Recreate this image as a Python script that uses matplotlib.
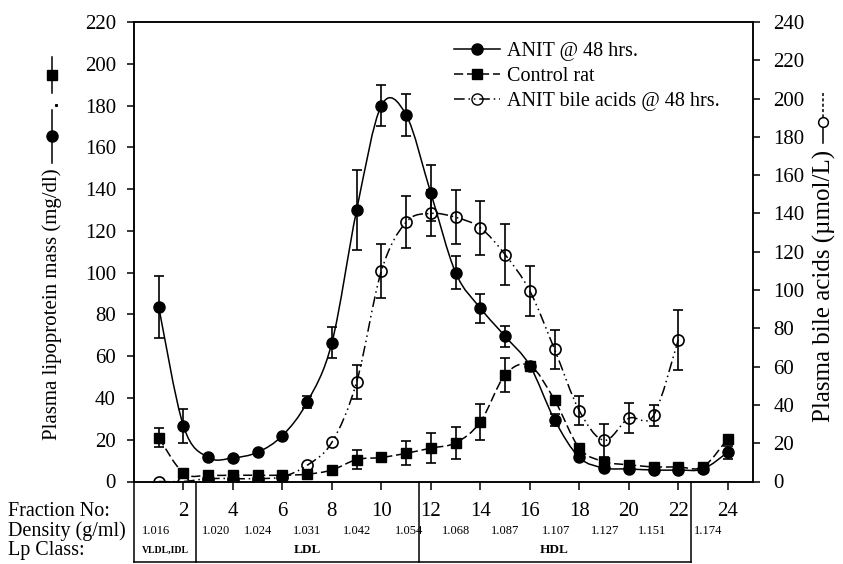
import matplotlib
matplotlib.use('Agg')
import matplotlib.pyplot as plt
from matplotlib.path import Path
from matplotlib.patches import PathPatch
from matplotlib.lines import Line2D
import matplotlib.transforms as mtransforms

plt.rcParams['font.family'] = ['Liberation Serif', 'DejaVu Serif']

# ---------------- data ----------------
fractions = list(range(1, 25))
anit = [83.5, 26.5, 11.5, 11.3, 14, 22, 38, 66.5, 130, 180, 175.5, 138,
        100, 83, 69.5, 55.5, 29.5, 11.5, 6.5, 6, 5.5, 5.5, 6, 14]
anit_err = [15, 8, 0, 0, 0, 0, 3, 7.5, 19, 10, 10, 13.5,
            8, 7, 5, 0, 3, 0, 0, 0, 0, 0, 0, 3]
control = [21, 4, 3, 3, 3, 3, 3.5, 5.5, 10.5, 11.5, 13.5, 16,
           18.5, 28.5, 51, 55.5, 39, 16, 9.5, 8, 7, 7, 7, 20.5]
control_err = [4.5, 0, 0, 0, 0, 0, 0, 0, 4.5, 2, 5.8, 7.3,
               7.8, 8.5, 8, 0, 0, 0, 0, 0, 0, 0, 0, 0]
bile_fractions = list(range(1, 23))
bile = [0, 0, 1.5, 1.5, 1.5, 2.5, 8.5, 20.5, 52, 110, 135.5, 140,
        138, 132.5, 118.5, 99.5, 69, 37, 21.5, 33, 34.5, 74]
bile_err = [0, 0, 0, 0, 0, 0, 0, 0, 9, 14, 13.7, 12,
            14, 14, 16, 13, 10, 7.5, 8.6, 7.8, 5.6, 15.7]
tick_fractions = list(range(2, 25, 2))
density_labels = ['1.016', '1.020', '1.024', '1.031', '1.042', '1.054',
                  '1.068', '1.087', '1.107', '1.127', '1.151', '1.174']
lp_classes = ['VLDL,IDL', 'LDL', 'HDL']
series_labels = ['ANIT @ 48 hrs.', 'Control rat', 'ANIT bile acids @ 48 hrs.']

# ---------------- layout ----------------
W, H = 843, 564
fig = plt.figure(figsize=(W / 100, H / 100), dpi=100)


def fx(px):
    return px / W


def fy(py):
    return 1 - py / H


ax = fig.add_axes([fx(134), fy(481.5), fx(752.5) - fx(134), fy(22) - fy(481.5)])
ax2 = ax.twinx()
ax.set_xlim(0, 25)
ax.set_ylim(0, 220)
ax2.set_ylim(0, 240)

LW = 1.1


def smooth_curve(axis, x, y, ls, lw=LW, z=2):
    n = len(x)
    verts = [(x[0], y[0])]
    codes = [Path.MOVETO]
    for i in range(n - 1):
        p0 = i - 1 if i > 0 else i
        p3 = i + 2 if i + 2 < n else i + 1
        c1 = (x[i] + (x[i + 1] - x[p0]) / 6.0, y[i] + (y[i + 1] - y[p0]) / 6.0)
        c2 = (x[i + 1] - (x[p3] - x[i]) / 6.0, y[i + 1] - (y[p3] - y[i]) / 6.0)
        verts += [c1, c2, (x[i + 1], y[i + 1])]
        codes += [Path.CURVE4] * 3
    patch = PathPatch(Path(verts, codes), facecolor='none', edgecolor='black',
                      linewidth=lw, linestyle=ls, zorder=z, capstyle='butt')
    axis.add_patch(patch)


def err_subset(xs, ys, es):
    sx, sy, se = [], [], []
    for a, b, c in zip(xs, ys, es):
        if c > 0:
            sx.append(a); sy.append(b); se.append(c)
    return sx, sy, se


ekw = dict(fmt='none', ecolor='black', elinewidth=1.2, capsize=3.5, capthick=1.2)

# Control rat (dashed, squares)
control_ls = (0, (6, 2.5))
smooth_curve(ax, fractions, control, control_ls, z=2)
sx, sy, se = err_subset(fractions, control, control_err)
ax.errorbar(sx, sy, yerr=se, zorder=3, **ekw)
ax.plot(fractions, control, ls='none', marker='s', ms=7, color='black', zorder=4)

# ANIT (solid, filled circles)
smooth_curve(ax, fractions, anit, '-', z=5)
sx, sy, se = err_subset(fractions, anit, anit_err)
ax.errorbar(sx, sy, yerr=se, zorder=5, **ekw)
ax.plot(fractions, anit, ls='none', marker='o', ms=8, color='black', zorder=6)

# Bile acids (dash-dot-dot, open circles) on right axis
bile_ls = (0, (7, 2.5, 1, 2.5, 1, 2.5))
smooth_curve(ax2, bile_fractions, bile, bile_ls, z=2)
sx, sy, se = err_subset(bile_fractions, bile, bile_err)
ax2.errorbar(sx, sy, yerr=se, zorder=3, **ekw)
ax2.plot(bile_fractions, bile, ls='none', marker='o', ms=8, mfc='none',
         mec='black', mew=1.2, zorder=4)

# ---------------- axes styling ----------------
for a in (ax, ax2):
    for s in a.spines.values():
        s.set_linewidth(LW)
ax.set_yticks(range(0, 221, 20))
ax2.set_yticks(range(0, 241, 20))
ax.tick_params(axis='y', direction='out', length=5, width=LW, labelsize=15, pad=8)
ax2.tick_params(axis='y', direction='out', length=5, width=LW, labelsize=15, pad=10)
ax.set_xticks(tick_fractions)
ax.tick_params(axis='x', direction='out', length=6, width=LW, labelbottom=False)

# ---------------- table below the axis ----------------
trans = mtransforms.blended_transform_factory(ax.transData, fig.transFigure)
for f in tick_fractions:
    ax.text(f, fy(512), str(f), transform=trans, ha='center', va='center', fontsize=15)

density_pos = [0.9, 3.3, 5.0, 7.0, 9.0, 11.1, 13.0, 15.0, 17.05, 19.05, 20.95, 23.2]
for p, lab in zip(density_pos, density_labels):
    ax.text(p, fy(531), lab, transform=trans, ha='center', va='center', fontsize=9)

lp_pos = [1.25, 7.0, 17.0]
lp_size = [7, 9.5, 9.5]
for p, lab, sz in zip(lp_pos, lp_classes, lp_size):
    ax.text(p, fy(550), lab, transform=trans, ha='center', va='center',
            fontsize=sz, fontweight='bold')

for xb in [0, 2.5, 11.5, 22.5]:
    ax.add_artist(Line2D([xb, xb], [fy(481.5), fy(562)], transform=trans,
                         color='black', lw=LW, clip_on=False))
ax.add_artist(Line2D([0, 22.5], [fy(562), fy(562)], transform=trans,
                     color='black', lw=LW, clip_on=False))

fig.text(fx(8), fy(512), 'Fraction No:', ha='left', va='center', fontsize=14.5)
fig.text(fx(8), fy(531), 'Density (g/ml)', ha='left', va='center', fontsize=14.5)
fig.text(fx(8), fy(550), 'Lp Class:', ha='left', va='center', fontsize=14.5)

# ---------------- axis labels with symbols ----------------
fig.text(fx(52), fy(168), 'Plasma lipoprotein mass (mg/dl)', rotation=90,
         ha='center', va='top', fontsize=15)
fig.add_artist(Line2D([fx(52), fx(52)], [fy(57), fy(93)], color='black', lw=LW))
fig.add_artist(Line2D([fx(52)], [fy(75)], marker='s', ms=7, color='black', ls='none'))
fig.add_artist(Line2D([fx(56)], [fy(105)], marker='s', ms=1.2, color='black', ls='none'))
fig.add_artist(Line2D([fx(52), fx(52)], [fy(110), fy(163)], color='black', lw=LW))
fig.add_artist(Line2D([fx(52)], [fy(136)], marker='o', ms=8, color='black', ls='none'))

fig.text(fx(824), fy(150), 'Plasma bile acids (µmol/L)', rotation=90,
         ha='center', va='top', fontsize=18)
fig.add_artist(Line2D([fx(823), fx(823)], [fy(122), fy(143)], color='black', lw=LW))
fig.add_artist(Line2D([fx(823), fx(823)], [fy(93), fy(122)], color='black', lw=LW,
                      ls=(0, (2, 1.5))))
fig.add_artist(Line2D([fx(823)], [fy(122)], marker='o', ms=7, mfc='white',
                      mec='black', mew=1.1, ls='none'))

# ---------------- legend ----------------
handles = [
    Line2D([], [], color='black', marker='o', ms=8, ls='-', lw=LW),
    Line2D([], [], color='black', marker='s', ms=7, ls=control_ls, lw=LW),
    Line2D([], [], color='black', marker='o', ms=8, mfc='none', ls=bile_ls, lw=LW),
]
fig.legend(handles, series_labels, loc='upper left', bbox_to_anchor=(fx(454), fy(42)),
           frameon=False, fontsize=14.5, handlelength=2.3, handletextpad=0.35,
           labelspacing=0.3, borderpad=0, borderaxespad=0, numpoints=1)

fig.savefig('out.png', dpi=100)
